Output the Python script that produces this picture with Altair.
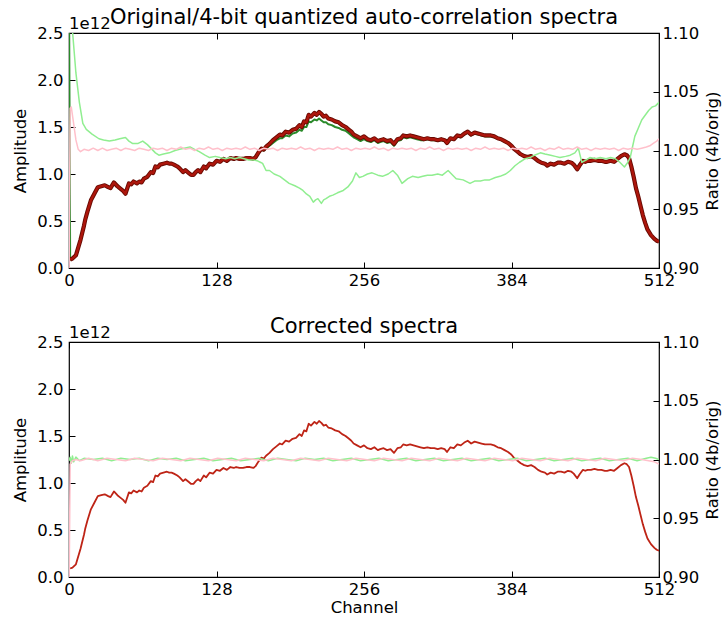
import altair as alt
import pandas as pd

# ---------------- data ----------------
# amplitude in units of 1e12
ORIG_SPECTRUM = [
    (1, 0.09), (3, 0.10), (6, 0.135), (10, 0.30), (13, 0.45), (14, 0.51), (16, 0.60), (19, 0.72),
    (22, 0.79), (25, 0.86), (28, 0.87), (31, 0.88), (34, 0.86), (36, 0.85), (39, 0.91), (42, 0.87),
    (44, 0.85), (47, 0.82), (49, 0.79), (52, 0.90), (54, 0.89), (56, 0.92), (59, 0.90), (61, 0.92),
    (63, 0.91), (65, 0.95), (68, 0.97), (71, 1.02), (73, 1.01), (75, 1.08), (77, 1.07), (79, 1.10),
    (82, 1.11), (85, 1.12), (87, 1.11), (89, 1.11), (91, 1.10), (94, 1.08), (96, 1.06), (99, 1.02),
    (101, 1.04), (104, 1.01), (106, 0.99), (108, 0.99), (110, 1.02), (112, 1.04), (114, 1.02), (117, 1.08),
    (119, 1.06), (122, 1.11), (125, 1.10), (128, 1.14), (131, 1.13), (134, 1.16), (137, 1.14), (140, 1.17),
    (143, 1.16), (145, 1.17), (148, 1.16), (151, 1.16), (154, 1.17), (157, 1.17), (160, 1.16), (162, 1.18),
    (164, 1.22), (167, 1.27), (169, 1.26), (171, 1.29), (174, 1.32), (177, 1.36), (180, 1.39), (183, 1.42),
    (185, 1.41), (188, 1.45), (191, 1.44), (194, 1.47), (197, 1.48), (200, 1.52), (202, 1.50), (204, 1.56),
    (206, 1.55), (208, 1.63), (210, 1.61), (213, 1.65), (215, 1.63), (217, 1.66), (219, 1.64), (221, 1.61),
    (223, 1.62), (225, 1.59), (228, 1.58), (231, 1.56), (234, 1.55), (237, 1.52), (240, 1.50), (243, 1.47),
    (245, 1.45), (247, 1.42), (250, 1.40), (253, 1.38), (256, 1.40), (259, 1.37), (262, 1.36), (265, 1.38),
    (268, 1.35), (270, 1.36), (273, 1.37), (276, 1.35), (279, 1.36), (282, 1.32), (285, 1.37), (288, 1.38),
    (290, 1.41), (293, 1.40), (296, 1.41), (299, 1.40), (302, 1.39), (305, 1.38), (308, 1.37), (311, 1.38),
    (314, 1.37), (317, 1.37), (320, 1.36), (323, 1.37), (326, 1.36), (328, 1.33), (331, 1.38), (334, 1.37),
    (337, 1.41), (340, 1.40), (343, 1.43), (346, 1.45), (349, 1.42), (352, 1.44), (355, 1.43), (358, 1.42),
    (361, 1.41), (363, 1.41), (366, 1.41), (369, 1.40), (372, 1.38), (375, 1.37), (378, 1.35), (381, 1.33),
    (384, 1.30), (386, 1.27), (389, 1.24), (392, 1.21), (395, 1.19), (398, 1.18), (401, 1.19), (404, 1.17),
    (407, 1.14), (410, 1.12), (413, 1.11), (415, 1.09), (418, 1.11), (421, 1.10), (424, 1.12), (427, 1.12),
    (430, 1.11), (433, 1.13), (436, 1.12), (438, 1.10), (441, 1.05), (443, 1.09), (446, 1.14), (448, 1.13),
    (450, 1.14), (453, 1.14), (456, 1.15), (459, 1.14), (462, 1.14), (465, 1.13), (467, 1.13), (470, 1.14),
    (473, 1.13), (476, 1.16), (479, 1.19), (482, 1.21), (484, 1.20), (486, 1.17), (488, 1.08), (490, 0.97),
    (492, 0.85), (494, 0.76), (496, 0.66), (498, 0.56), (500, 0.48), (502, 0.41), (505, 0.35), (508, 0.31),
    (510, 0.29), (512, 0.28),
]

QUANT_SPECTRUM = [
    (0, 3.00), (1, 0.09), (3, 0.10), (6, 0.135), (10, 0.30), (13, 0.45), (14, 0.51), (16, 0.60), (19, 0.72),
    (22, 0.79), (25, 0.86), (28, 0.87), (31, 0.88), (34, 0.86), (36, 0.85), (39, 0.91), (42, 0.87),
    (44, 0.85), (47, 0.82), (49, 0.79), (52, 0.90), (54, 0.89), (56, 0.92), (59, 0.90), (61, 0.92),
    (63, 0.91), (65, 0.95), (68, 0.97), (71, 1.02), (73, 1.01), (75, 1.08), (77, 1.07), (79, 1.10),
    (82, 1.11), (85, 1.12), (87, 1.11), (89, 1.11), (91, 1.10), (94, 1.08), (96, 1.06), (99, 1.02),
    (101, 1.04), (104, 1.01), (106, 0.99), (108, 0.99), (110, 1.02), (112, 1.04), (114, 1.02), (117, 1.08),
    (119, 1.06), (122, 1.11), (125, 1.10), (128, 1.14), (131, 1.13), (134, 1.16), (137, 1.14), (140, 1.17),
    (143, 1.16), (145, 1.17), (148, 1.16), (151, 1.16), (154, 1.17), (157, 1.17), (160, 1.16), (162, 1.18),
    (164, 1.21), (167, 1.26), (169, 1.25), (171, 1.27), (174, 1.30), (177, 1.33), (180, 1.36), (183, 1.38),
    (185, 1.38), (188, 1.41), (191, 1.40), (194, 1.43), (197, 1.44), (200, 1.47), (202, 1.46), (204, 1.50),
    (206, 1.50), (208, 1.56), (210, 1.55), (213, 1.58), (215, 1.57), (217, 1.59), (219, 1.57), (221, 1.55),
    (223, 1.55), (225, 1.53), (228, 1.52), (231, 1.50), (234, 1.49), (237, 1.47), (240, 1.46), (243, 1.43),
    (245, 1.41), (247, 1.39), (250, 1.37), (253, 1.35), (256, 1.37), (259, 1.35), (262, 1.34), (265, 1.36),
    (268, 1.33), (270, 1.34), (273, 1.35), (276, 1.33), (279, 1.34), (282, 1.30), (285, 1.35), (288, 1.36),
    (290, 1.39), (293, 1.38), (296, 1.39), (299, 1.38), (302, 1.37), (305, 1.36), (308, 1.36), (311, 1.37),
    (314, 1.36), (317, 1.36), (320, 1.35), (323, 1.36), (326, 1.35), (328, 1.32), (331, 1.37), (334, 1.36),
    (337, 1.40), (340, 1.39), (343, 1.42), (346, 1.44), (349, 1.41), (352, 1.43), (355, 1.42), (358, 1.41),
    (361, 1.40), (363, 1.40), (366, 1.40), (369, 1.39), (372, 1.38), (375, 1.36), (378, 1.35), (381, 1.33),
    (384, 1.30), (386, 1.27), (389, 1.24), (392, 1.21), (395, 1.19), (398, 1.18), (401, 1.19), (404, 1.17),
    (407, 1.14), (410, 1.12), (413, 1.11), (415, 1.09), (418, 1.11), (421, 1.10), (424, 1.12), (427, 1.12),
    (430, 1.11), (433, 1.13), (436, 1.12), (438, 1.10), (441, 1.05), (443, 1.09), (446, 1.14), (448, 1.13),
    (450, 1.14), (453, 1.14), (456, 1.15), (459, 1.14), (462, 1.14), (465, 1.13), (467, 1.13), (470, 1.14),
    (473, 1.13), (476, 1.16), (479, 1.19), (482, 1.21), (484, 1.20), (486, 1.17), (488, 1.08), (490, 0.97),
    (492, 0.85), (494, 0.76), (496, 0.66), (498, 0.56), (500, 0.48), (502, 0.41), (505, 0.35), (508, 0.31),
    (510, 0.29), (512, 0.28),
]

# ratio 4b/orig, uncorrected (light green)
RATIO_RAW = [
    (0, 1.12), (1, 1.13), (3, 1.102), (6, 1.066), (9, 1.041), (12, 1.023), (15, 1.018), (20, 1.014),
    (26, 1.010), (30, 1.009), (35, 1.008), (40, 1.009), (44, 1.010), (49, 1.011), (52, 1.008), (55, 1.006),
    (60, 1.006), (64, 1.008), (68, 1.005), (71, 1.002), (75, 0.998), (78, 0.996), (82, 0.997), (87, 0.998),
    (92, 1.000), (96, 1.001), (100, 1.002), (105, 1.003), (109, 1.001), (113, 0.999), (118, 0.996),
    (122, 0.994), (127, 0.995), (131, 0.994), (136, 0.993), (140, 0.994), (144, 0.993), (148, 0.994),
    (152, 0.993), (156, 0.992), (160, 0.992), (164, 0.991), (166, 0.990), (168, 0.989), (171, 0.983),
    (174, 0.983), (178, 0.980), (183, 0.978), (187, 0.975), (191, 0.972), (196, 0.970), (200, 0.968),
    (203, 0.966), (206, 0.963), (209, 0.961), (212, 0.956), (214, 0.958), (216, 0.959), (219, 0.955),
    (221, 0.958), (223, 0.959), (226, 0.961), (229, 0.962), (233, 0.964), (238, 0.966), (242, 0.969),
    (246, 0.974), (249, 0.981), (252, 0.977), (255, 0.978), (259, 0.980), (263, 0.981), (268, 0.979),
    (272, 0.978), (277, 0.980), (281, 0.983), (285, 0.979), (289, 0.972), (294, 0.976), (298, 0.978),
    (303, 0.977), (307, 0.978), (311, 0.979), (315, 0.979), (320, 0.980), (324, 0.979), (329, 0.983),
    (333, 0.979), (336, 0.976), (342, 0.975), (348, 0.972), (352, 0.974), (357, 0.974), (361, 0.975),
    (365, 0.975), (370, 0.977), (374, 0.978), (379, 0.980), (383, 0.983), (387, 0.987), (391, 0.990),
    (396, 0.993), (400, 0.994), (404, 0.996), (409, 0.998), (413, 0.997), (418, 0.996), (422, 0.995),
    (426, 0.994), (431, 0.995), (435, 0.996), (439, 0.998), (442, 1.002), (445, 0.990), (449, 0.992),
    (452, 0.994), (457, 0.993), (461, 0.994), (466, 0.993), (470, 0.994), (474, 0.993), (478, 0.990),
    (482, 0.986), (485, 0.990), (487, 0.994), (489, 1.003), (491, 1.012), (494, 1.019), (497, 1.026),
    (500, 1.030), (503, 1.034), (506, 1.037), (509, 1.038), (512, 1.041),
]

# second ratio curve of the top panel (pink)
RATIO_PINK_TOP = [
    (0, 0.88), (1, 1.036), (2, 1.037), (4, 1.023), (6, 1.009), (8, 1.001), (10, 0.999), (13, 1.001),
    (17, 1.000), (21, 1.002), (25, 1.000), (29, 1.002), (33, 1.000), (37, 1.001), (41, 1.002), (45, 1.000),
    (49, 1.002), (53, 1.001), (57, 1.000), (61, 1.002), (65, 1.001), (69, 1.000), (73, 1.002), (77, 1.001),
    (81, 1.002), (85, 1.000), (89, 1.002), (93, 1.001), (97, 1.003), (101, 1.001), (105, 1.002), (109, 1.000),
    (113, 1.002), (117, 1.001), (121, 1.003), (125, 1.001), (129, 1.002), (133, 1.000), (137, 1.002),
    (141, 1.001), (145, 1.002), (149, 1.001), (153, 1.003), (157, 1.001), (161, 1.002), (165, 1.000),
    (169, 1.002), (173, 1.001), (177, 1.002), (181, 1.000), (185, 1.002), (189, 1.001), (193, 1.002),
    (197, 1.001), (201, 1.003), (205, 1.001), (209, 1.002), (213, 1.000), (217, 1.002), (221, 1.001),
    (225, 1.002), (229, 1.001), (233, 1.003), (237, 1.001), (241, 1.002), (245, 1.000), (249, 1.002),
    (253, 1.001), (257, 1.002), (261, 1.001), (265, 1.003), (269, 1.001), (273, 1.002), (277, 1.000),
    (281, 1.002), (285, 1.001), (289, 1.002), (293, 1.001), (297, 1.002), (301, 1.000), (305, 1.002),
    (309, 1.001), (313, 1.003), (317, 1.001), (321, 1.002), (325, 1.000), (329, 1.002), (333, 1.001),
    (337, 1.002), (341, 1.001), (345, 1.002), (349, 1.000), (353, 1.002), (357, 1.001), (361, 1.003),
    (365, 1.001), (369, 1.002), (373, 1.001), (377, 1.002), (381, 1.000), (385, 1.002), (389, 1.001),
    (393, 1.002), (397, 1.001), (401, 1.003), (405, 1.001), (409, 1.002), (413, 1.000), (417, 1.002),
    (421, 1.001), (425, 1.003), (429, 1.001), (433, 1.002), (437, 1.001), (441, 1.003), (445, 1.001),
    (449, 1.002), (453, 1.000), (457, 1.002), (461, 1.001), (465, 1.002), (469, 1.001), (473, 1.002),
    (477, 1.000), (481, 1.002), (485, 1.001), (489, 1.002), (493, 1.001), (497, 1.002), (501, 1.003),
    (504, 1.004), (507, 1.006), (510, 1.008), (512, 1.010),
]

# corrected ratios (bottom panel)
RATIO_GREEN_CORR = [
    (0, 0.999), (1, 1.002), (2, 0.997), (3, 1.003), (4, 0.998), (6, 1.002), (9, 0.999), (13, 1.001),
    (21, 1.000), (29, 1.001), (37, 0.999), (45, 1.001), (53, 1.000), (61, 1.001), (69, 0.999), (77, 1.001),
    (85, 1.000), (93, 1.001), (101, 0.999), (109, 1.000), (117, 1.001), (125, 0.999), (133, 1.000),
    (141, 1.001), (149, 0.999), (157, 1.000), (165, 1.001), (173, 0.999), (181, 1.001), (189, 1.000),
    (197, 0.999), (205, 1.001), (213, 1.000), (221, 1.001), (229, 0.999), (237, 1.000), (245, 1.001),
    (253, 0.999), (261, 1.000), (269, 1.001), (277, 0.999), (285, 1.000), (293, 1.001), (301, 0.999),
    (309, 1.000), (317, 1.001), (325, 0.999), (333, 1.000), (341, 1.001), (349, 0.999), (357, 1.000),
    (365, 1.001), (373, 0.999), (381, 1.000), (389, 1.001), (397, 0.999), (405, 1.000), (413, 1.001),
    (421, 0.999), (429, 1.000), (437, 1.001), (445, 0.999), (453, 1.000), (461, 1.001), (469, 0.999),
    (477, 1.000), (485, 1.001), (493, 0.999), (501, 1.001), (505, 1.002), (509, 1.001), (512, 1.000),
]

RATIO_PINK_CORR = [
    (0, 0.88), (1, 0.996), (3, 0.999), (6, 1.000), (10, 0.999), (17, 1.001), (25, 0.999), (33, 1.001),
    (41, 1.000), (49, 0.999), (57, 1.001), (65, 1.000), (73, 0.999), (81, 1.001), (89, 1.000), (97, 0.999),
    (105, 1.001), (113, 1.000), (121, 0.999), (129, 1.001), (137, 1.000), (145, 0.999), (153, 1.001),
    (161, 1.000), (169, 0.999), (177, 1.001), (185, 1.000), (193, 0.999), (201, 1.001), (209, 1.000),
    (217, 0.999), (225, 1.001), (233, 1.000), (241, 0.999), (249, 1.001), (257, 1.000), (265, 0.999),
    (273, 1.001), (281, 1.000), (289, 0.999), (297, 1.001), (305, 1.000), (313, 0.999), (321, 1.001),
    (329, 1.000), (337, 0.999), (345, 1.001), (353, 1.000), (361, 0.999), (369, 1.001), (377, 1.000),
    (385, 0.999), (393, 1.001), (401, 1.000), (409, 0.999), (417, 1.001), (425, 1.000), (433, 0.999),
    (441, 1.001), (449, 1.000), (457, 0.999), (465, 1.001), (473, 1.000), (481, 0.999), (489, 1.001),
    (497, 1.000), (503, 0.999), (508, 0.998), (512, 0.996),
]

X_TICKS = [0, 128, 256, 384, 512]
AMP_TICKS = [0.0, 0.5, 1.0, 1.5, 2.0, 2.5]
RATIO_TICKS = [0.90, 0.95, 1.00, 1.05, 1.10]

# ---------------- chart ----------------
W, H = 590, 235
FONT = "DejaVu Sans"
FS = 16.5
TICK = 6


def frame(pairs):
    return pd.DataFrame(pairs, columns=["channel", "value"])


def x_enc(orient, labels, title):
    return alt.X(
        "channel:Q",
        scale=alt.Scale(domain=[0, 512], nice=False, zero=False),
        axis=alt.Axis(
            values=X_TICKS, format="d", orient=orient, offset=-TICK, tickSize=TICK,
            domain=False, grid=False, labels=labels, labelPadding=4, labelFlush=False,
            labelOverlap=False, title=title, titlePadding=2,
        ),
    )


amp_y = alt.Y(
    "value:Q",
    scale=alt.Scale(domain=[0, 2.5], nice=False, zero=False),
    axis=alt.Axis(
        values=AMP_TICKS, format=".1f", orient="left", offset=-TICK, tickSize=TICK,
        domain=False, grid=False, labelPadding=6, labelFlush=False, labelOverlap=False,
        title="Amplitude", titlePadding=8,
    ),
)

ratio_y = alt.Y(
    "value:Q",
    scale=alt.Scale(domain=[0.9, 1.1], nice=False, zero=False),
    axis=alt.Axis(
        values=RATIO_TICKS, format=".2f", orient="right", offset=-TICK, tickSize=TICK,
        domain=False, grid=False, labelPadding=3, labelFlush=False, labelOverlap=False,
        title="Ratio (4b/orig)", titlePadding=6, titleAngle=270, titleBaseline="top",
    ),
)


def line(pairs, color, width, y, xo, xl, xt):
    return alt.Chart(frame(pairs)).mark_line(
        color=color, strokeWidth=width, clip=True, strokeJoin="round"
    ).encode(x=x_enc(xo, xl, xt), y=y)


def exponent_label():
    return alt.Chart(pd.DataFrame({"t": ["1e12"]})).mark_text(
        align="left", baseline="alphabetic", font=FONT, fontSize=FS, color="black"
    ).encode(x=alt.value(0), y=alt.value(-4), text="t:N")


def panel(amp_layers, ratio_layers, title):
    amp = alt.layer(*amp_layers, exponent_label())
    ratio = alt.layer(*ratio_layers)
    return (
        alt.layer(amp, ratio)
        .resolve_scale(y="independent")
        .resolve_axis(x="independent")
        .properties(
            width=W, height=H,
            title=alt.TitleParams(title, font=FONT, fontSize=21, fontWeight="normal",
                                  anchor="middle", frame="group", offset=-12, color="black"),
        )
    )


top = panel(
    [
        line(QUANT_SPECTRUM, "#2a8a2a", 2, amp_y, "bottom", True, ""),
        line(ORIG_SPECTRUM, "#660a02", 4.2, amp_y, "bottom", True, ""),
        line(ORIG_SPECTRUM, "#ad160c", 2.4, amp_y, "bottom", True, ""),
    ],
    [
        line(RATIO_RAW, "#90ee90", 1.5, ratio_y, "top", False, ""),
        line(RATIO_PINK_TOP, "#ffc0cb", 1.5, ratio_y, "top", False, ""),
    ],
    "Original/4-bit quantized auto-correlation spectra",
)

bottom = panel(
    [
        line(ORIG_SPECTRUM, "#be2416", 1.8, amp_y, "bottom", True, "Channel"),
    ],
    [
        line(RATIO_GREEN_CORR, "#90ee90", 1.5, ratio_y, "top", False, ""),
        line(RATIO_PINK_CORR, "#ffc0cb", 1.5, ratio_y, "top", False, ""),
    ],
    "Corrected spectra",
)

chart = (
    alt.vconcat(top, bottom, spacing=25)
    .properties(padding={"left": 12, "top": 6, "right": 0, "bottom": 4}, background="white")
    .configure_view(stroke="black", strokeWidth=1.2)
    .configure_axis(
        labelFont=FONT, labelFontSize=FS, labelColor="black",
        titleFont=FONT, titleFontSize=FS, titleFontWeight="normal", titleColor="black",
        tickColor="black", tickWidth=1,
    )
)

chart.save("out.html", embed_options={"renderer": "svg", "actions": False})
